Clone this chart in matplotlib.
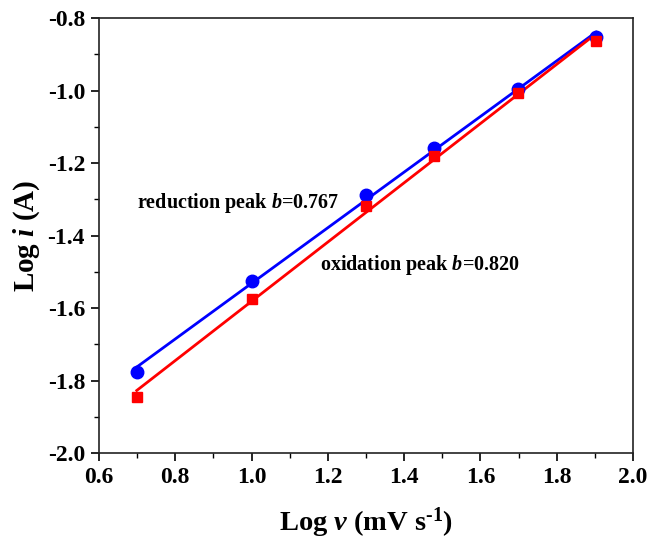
import numpy as np
import matplotlib
matplotlib.use("Agg")
import matplotlib.pyplot as plt
from matplotlib.ticker import MultipleLocator

plt.rcParams['font.family'] = ['Liberation Serif', 'DejaVu Serif']
plt.rcParams['font.weight'] = 'bold'
plt.rcParams['mathtext.fontset'] = 'custom'
plt.rcParams['mathtext.rm'] = 'Liberation Serif:bold'
plt.rcParams['mathtext.it'] = 'Liberation Serif:italic:bold'
plt.rcParams['mathtext.bf'] = 'Liberation Serif:bold'
plt.rcParams['mathtext.default'] = 'rm'

log_v = [0.699, 1.0, 1.301, 1.477, 1.699, 1.903]
reduction = [-1.777, -1.525, -1.289, -1.158, -0.996, -0.852]
oxidation = [-1.845, -1.575, -1.319, -1.181, -1.007, -0.863]
label_red = "reduction peak $\\mathit{b}$=0.767"
label_ox = "oxidation peak $\\mathit{b}$=0.820"

fig = plt.figure(figsize=(6.57, 5.46), dpi=100)
ax = fig.add_axes([99/657, 1-453/546, 534/657, 435/546])

x = np.array(log_v)
for y, col, mk, ms in [(reduction, '#0000ff', 'o', 9), (oxidation, '#ff0000', 's', 7.5)]:
    p = np.polyfit(x, y, 1)
    xx = np.array([x.min(), x.max()])
    ax.plot(xx, np.polyval(p, xx), color=col, lw=2, zorder=2)
    ax.plot(x, y, linestyle='none', marker=mk, color=col, ms=ms, zorder=3)

ax.set_xlim(0.6, 2.0)
ax.set_ylim(-2.0, -0.8)
ax.xaxis.set_major_locator(MultipleLocator(0.2))
ax.xaxis.set_minor_locator(MultipleLocator(0.1))
ax.yaxis.set_major_locator(MultipleLocator(0.2))
ax.yaxis.set_minor_locator(MultipleLocator(0.1))
ax.xaxis.set_major_formatter(matplotlib.ticker.FormatStrFormatter('%.1f'))
ax.yaxis.set_major_formatter(matplotlib.ticker.FormatStrFormatter('%.1f'))
ax.tick_params(which='major', direction='out', length=6, width=1.2, labelsize=17, pad=4)
ax.tick_params(which='minor', direction='out', length=3.5, width=1.0)
for s in ax.spines.values():
    s.set_linewidth(1.2)
    s.set_color('#222222')

ax.set_xlabel("Log $\\mathit{v}$ (mV s$^{\u20101}$)", fontsize=20.5, fontweight='bold', labelpad=13)
ax.set_ylabel("Log $\\mathit{i}$ (A)", fontsize=21, fontweight='bold', labelpad=4)

ax.text(0.70, -1.31, label_red, fontsize=14.5, fontweight='bold', ha='left', va='center')
ax.text(1.179, -1.481, label_ox, fontsize=14.5, fontweight='bold', ha='left', va='center')

fig.savefig("out.png", dpi=100)
